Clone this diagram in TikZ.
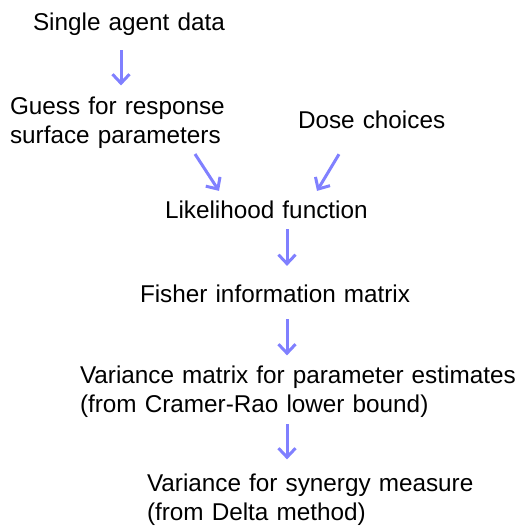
\documentclass[tikz,border=0pt]{standalone}
\usepackage{fontspec}
\setmainfont[WordSpace=1.2]{Liberation Sans}
\usetikzlibrary{arrows.meta}
\definecolor{arrowblue}{RGB}{128,128,255}
\tikzset{
  label/.style={inner sep=0pt, outer sep=0pt, anchor=base west, align=left,
    font=\fontsize{24.3}{28.5}\selectfont},
  flow/.style={draw=arrowblue, line width=3pt,
    -{Straight Barb[length=9pt,width=17pt]}}
}
\begin{document}
\begin{tikzpicture}[x=1pt,y=-1pt]
  \useasboundingbox (0,0) rectangle (518,527);

  % text of each step (base anchor sits on the last line)
  \node[label] (sad)    at (33,31)  {Single agent data};
  \node[label] (guess)  at (10,143) {Guess for response\\surface parameters};
  \node[label] (dose)   at (298,128) {Dose choices};
  \node[label] (lik)    at (165,218) {Likelihood function};
  \node[label] (fisher) at (140,302) {Fisher information matrix};
  \node[label] (varm)   at (80,412)  {Variance matrix for parameter estimates\\(from Cramer-Rao lower bound)};
  \node[label] (syn)    at (147,520) {Variance for synergy measure\\(from Delta method)};

  % arrows between the steps
  \draw[flow] ([xshift=88pt,yshift=-14pt]sad.south west)
           -- ([xshift=111pt,yshift=11.5pt]guess.north west);
  \draw[flow] ([xshift=185pt,yshift=-6pt]guess.south west)
           -- ([xshift=54pt,yshift=9.5pt]lik.north west);
  \draw[flow] ([xshift=41pt,yshift=-26pt]dose.south west)
           -- ([xshift=152pt,yshift=9.5pt]lik.north west);
  \draw[flow] ([xshift=122pt,yshift=-11pt]lik.south west)
           -- ([xshift=147pt,yshift=18.5pt]fisher.north west);
  \draw[flow] ([xshift=147pt,yshift=-17pt]fisher.south west)
           -- ([xshift=207pt,yshift=10.5pt]varm.north west);
  \draw[flow] ([xshift=207pt,yshift=-7pt]varm.south west)
           -- ([xshift=140pt,yshift=14.5pt]syn.north west);
\end{tikzpicture}
\end{document}
